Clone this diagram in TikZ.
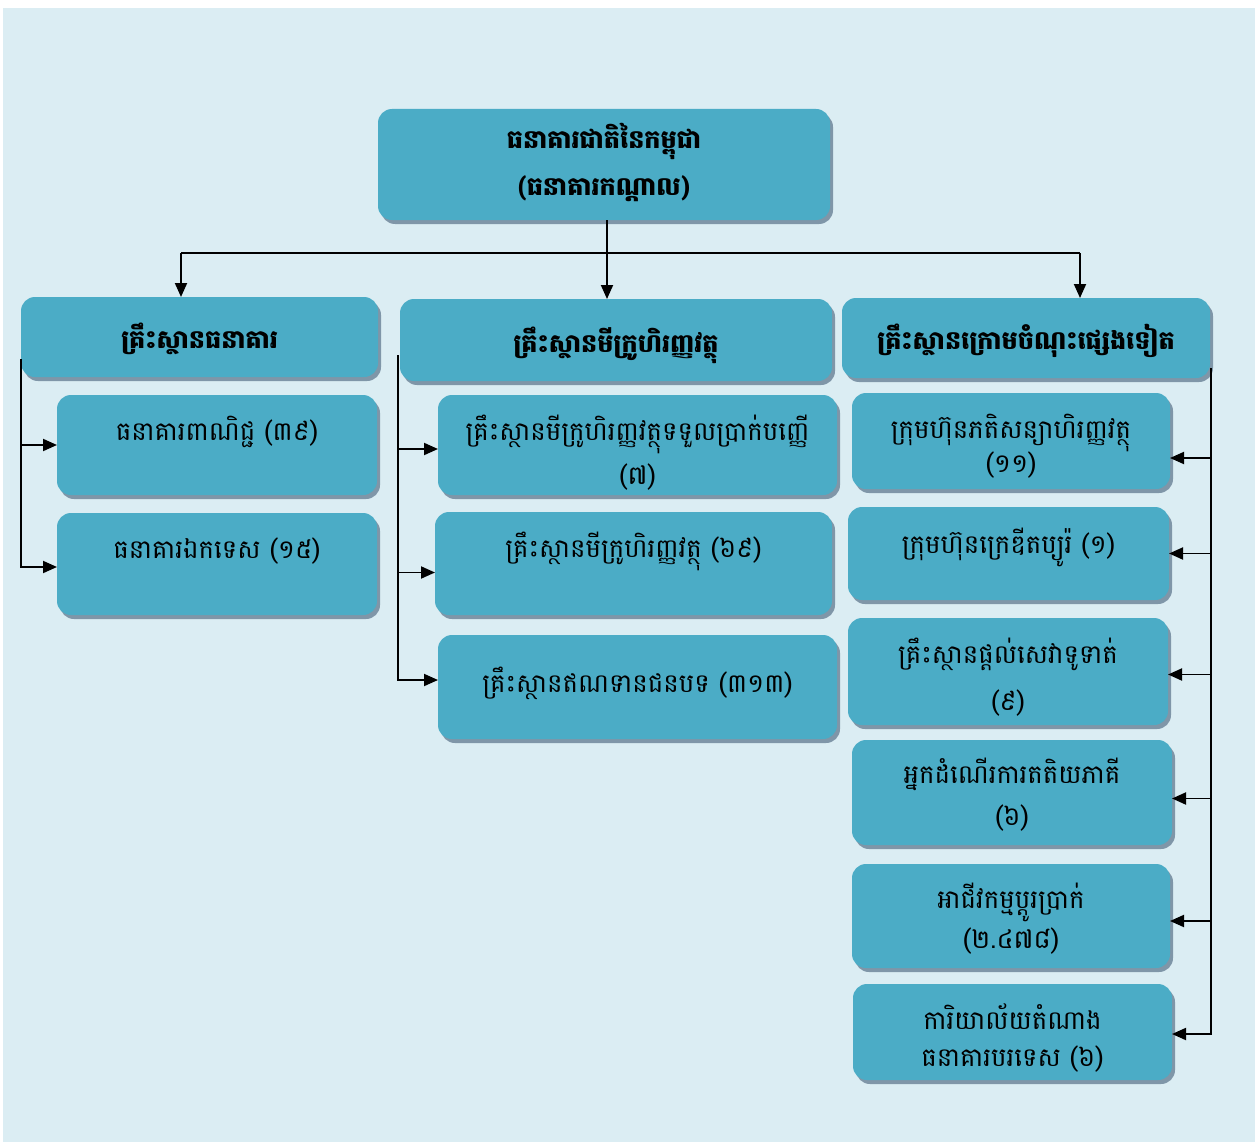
\documentclass[tikz,border=0pt]{standalone}
\usepackage{fontspec}
\setmainfont[Script=Khmer]{Battambang}
\usetikzlibrary{arrows.meta,shadows,calc}
\definecolor{bgc}{HTML}{DBEDF3}
\definecolor{boxc}{HTML}{4BACC6}
\definecolor{shc}{HTML}{7F96A8}
\newcommand\hdf{\bfseries\fontsize{25.5pt}{47pt}\selectfont}
% \kbox{name}{x1}{y1}{x2}{y2}{baseline offset}{line skip}{text}
\newcommand\kbox[8]{%
  \pgfmathsetmacro\bw{#4-#2}\pgfmathsetmacro\bh{#5-#3}%
  \node[box, anchor=north west, minimum width=\bw pt, minimum height=\bh pt] (#1) at (#2,#3)
  {\parbox[c][\bh pt][t]{\bw pt}{\centering\lineskiplimit=-100pt
   \vspace*{\dimexpr#6pt-40pt\relax}#8}};}
\newcommand\kln[2]{\fontsize{#1pt}{#2pt}\selectfont\rule{0pt}{40pt}}
\tikzset{
  box/.style={fill=boxc, rounded corners=14pt, inner sep=0pt, outer sep=0pt,
    drop shadow={shadow xshift=3pt, shadow yshift=-4pt, fill=shc, opacity=1}},
  conn/.style={line width=1.9pt, draw=black},
  arr/.style={conn, -{Triangle[length=14pt,width=12pt]}}
}
\begin{document}
\begin{tikzpicture}[x=1pt,y=-1pt]
\useasboundingbox (0,0) rectangle (1255,1142);
\fill[white] (0,0) rectangle (1255,1142);
\fill[bgc] (3,8) rectangle (1255,1142);
% top
\kbox{top}{378}{109}{830}{220}{39.5}{47}{\hdf\rule{0pt}{40pt}ធនាគារជាតិនៃកម្ពុជា\\(ធនាគារកណ្តាល)}
% headers
\kbox{bank}{21}{297}{378}{377}{51.5}{47}{\hdf\rule{0pt}{40pt}គ្រឹះស្ថានធនាគារ}
\kbox{mfi}{400}{299}{832}{381}{53.5}{47}{\hdf\rule{0pt}{40pt}គ្រឹះស្ថានមីក្រូហិរញ្ញវត្ថុ}
\kbox{oth}{842}{298}{1210}{378}{51.5}{47}{\hdf\rule{0pt}{40pt}គ្រឹះស្ថានក្រោមចំណុះផ្សេងទៀត}
% banks
\kbox{b1}{57}{395}{377}{495}{45}{40}{\kln{26}{40}ធនាគារពាណិជ្ជ (៣៩)}
\kbox{b2}{57}{513}{377}{615}{45}{40}{\kln{26}{40}ធនាគារឯកទេស (១៥)}
% MFIs
\kbox{m1}{438}{395}{837}{495}{45}{44}{\kln{26}{44}គ្រឹះស្ថានមីក្រូហិរញ្ញវត្ថុទទួលប្រាក់បញ្ញើ\\(៧)}
\kbox{m2}{435}{512}{832}{615}{45}{40}{\kln{26}{40}គ្រឹះស្ថានមីក្រូហិរញ្ញវត្ថុ (៦៩)}
\kbox{m3}{438}{635}{837}{739}{57}{40}{\kln{26}{40}គ្រឹះស្ថានឥណទានជនបទ (៣១៣)}
% others
\kbox{r1}{852}{393}{1170}{489}{45}{34}{\kln{26}{34}ក្រុមហ៊ុនភតិសន្យាហិរញ្ញវត្ថុ\\(១១)}
\kbox{r2}{848}{507}{1169}{600}{46}{40}{\kln{26}{40}ក្រុមហ៊ុនក្រេឌីតប្យូរ៉ (១)}
\kbox{r3}{848}{618}{1168}{725}{45}{47}{\kln{26}{47}គ្រឹះស្ថានផ្តល់សេវាទូទាត់\\(៩)}
\kbox{r4}{852}{740}{1172}{845}{43}{42}{\kln{26}{42}អ្នកដំណើរការតតិយភាគី\\(៦)}
\kbox{r5}{852}{864}{1170}{968}{44}{40}{\kln{26}{40}អាជីវកម្មប្តូរប្រាក់\\(២.៤៧៨)}
\kbox{r6}{853}{984}{1172}{1080}{45}{37}{\kln{26}{37}ការិយាល័យតំណាង\\ធនាគារបរទេស (៦)}
% top connectors
\coordinate (tp) at (607,220);
\coordinate (hbL) at (181,253);
\coordinate (hbR) at (1080,253);
\draw[arr] (tp) -- (tp |- mfi.north);
\draw[conn] (hbL) -- (hbR);
\draw[arr] (hbL) -- (hbL |- bank.north);
\draw[arr] (hbR) -- (hbR |- oth.north);
% left bracket
\coordinate (lt) at (21,359);
\draw[arr] (lt) |- (b1.west);
\draw[arr] (lt) |- ([yshift=-3pt]b2.west);
% middle bracket
\coordinate (mt) at (398,355);
\draw[arr] (mt) |- ([yshift=-4pt]m1.west);
\draw[arr] (mt) |- ([yshift=-9pt]m2.west);
\draw[arr] (mt) |- ([yshift=7pt]m3.west);
% right bracket
\coordinate (rt) at (1211,368);
\draw[arr] (rt) |- ([yshift=-17pt]r1.east);
\draw[arr] (rt) |- (r2.east);
\draw[arr] (rt) |- ([yshift=-3pt]r3.east);
\draw[arr] (rt) |- ([yshift=-6pt]r4.east);
\draw[arr] (rt) |- ([yshift=-5pt]r5.east);
\draw[arr] (rt) |- ([yshift=-2pt]r6.east);
\end{tikzpicture}
\end{document}
